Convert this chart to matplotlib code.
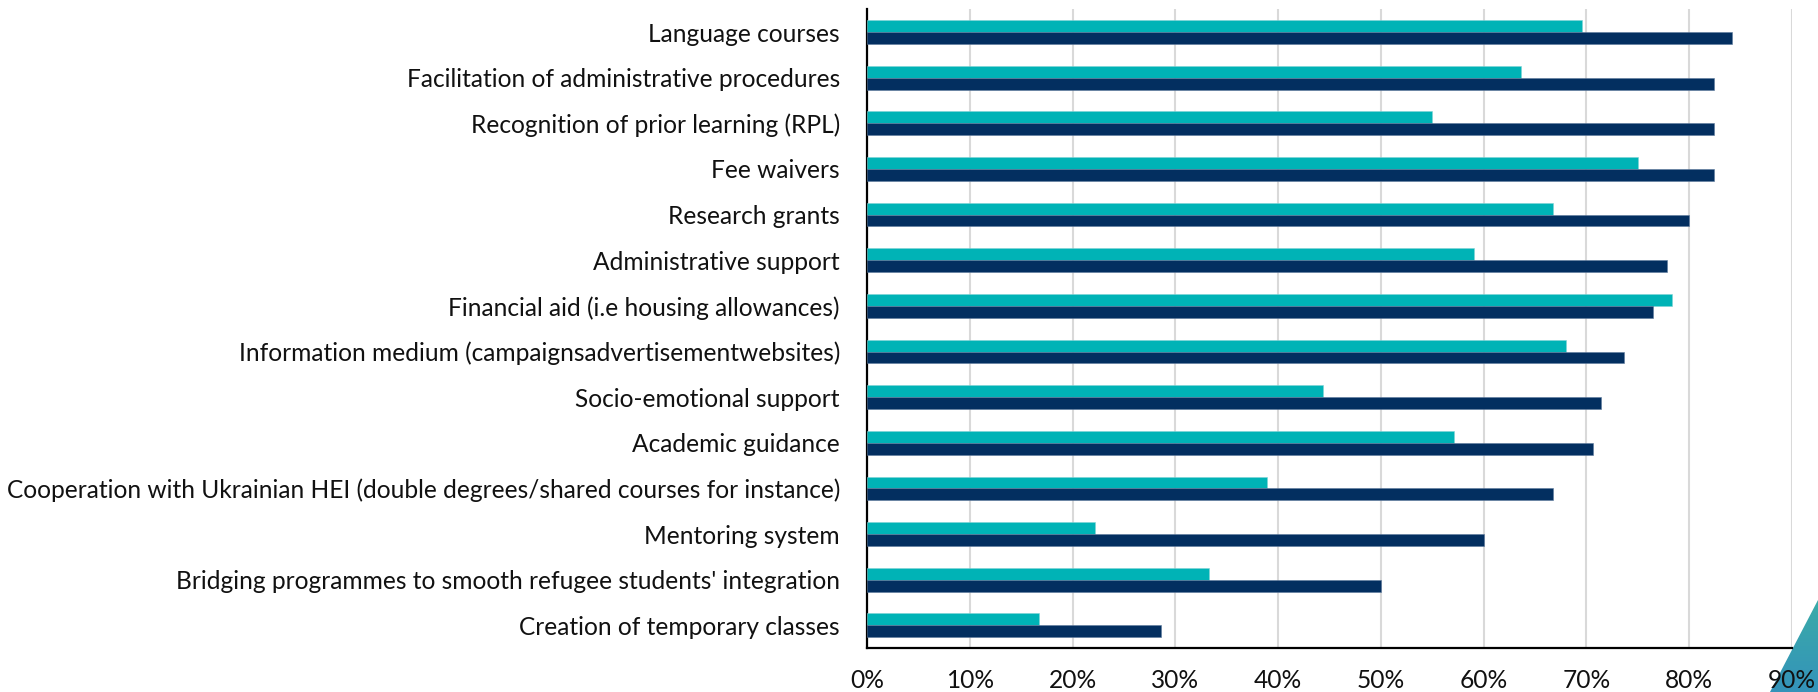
import numpy as np
import matplotlib
matplotlib.use("Agg")
import matplotlib.pyplot as plt
from matplotlib.patches import Polygon
from matplotlib.ticker import PercentFormatter

plt.rcParams["font.family"] = ["Lato", "DejaVu Sans"]

# Support measures, top to bottom
categories = [
    "Language courses",
    "Facilitation of administrative procedures",
    "Recognition of prior learning (RPL)",
    "Fee waivers",
    "Research grants",
    "Administrative support",
    "Financial aid (i.e housing allowances)",
    "Information medium (campaignsadvertisementwebsites)",
    "Socio-emotional support",
    "Academic guidance",
    "Cooperation with Ukrainian HEI (double degrees/shared courses for instance)",
    "Mentoring system",
    "Bridging programmes to smooth refugee students' integration",
    "Creation of temporary classes",
]

# Shares of respondents (fractions)
teal_vals = [0.696, 0.636, 0.550, 0.750, 0.667, 0.591, 0.783, 0.680,
             0.444, 0.571, 0.389, 0.222, 0.333, 0.167]
navy_vals = [0.842, 0.824, 0.824, 0.824, 0.800, 0.778, 0.765, 0.737,
             0.714, 0.706, 0.667, 0.600, 0.500, 0.286]

TEAL = "#00B3B6"
NAVY = "#032F60"

fig = plt.figure(figsize=(18.18, 6.92), dpi=100)
ax = fig.add_axes([0.4769, 0.0634, 0.9857 - 0.4769, 0.9866 - 0.0634])

y = np.arange(len(categories))
h = 0.26
ax.barh(y - h / 2, teal_vals, height=h, color=TEAL, edgecolor="#7fd4d6",
        linewidth=0.4, zorder=3)
ax.barh(y + h / 2, navy_vals, height=h, color=NAVY, edgecolor="#5d7a9c",
        linewidth=0.4, zorder=3)

ax.set_xlim(0, 0.9)
ax.set_ylim(len(categories) - 0.5, -0.5)
ax.xaxis.set_major_locator(plt.MultipleLocator(0.1))
ax.xaxis.set_major_formatter(PercentFormatter(1.0, decimals=0))
ax.set_yticks(y)
ax.set_yticklabels(categories)

ax.grid(axis="x", color="#D9D9D9", linewidth=1.5, zorder=0)
ax.set_axisbelow(True)
for s in ["top", "right"]:
    ax.spines[s].set_visible(False)
for s in ["left", "bottom"]:
    ax.spines[s].set_color("black")
    ax.spines[s].set_linewidth(1.6)

ax.tick_params(axis="both", length=0, labelsize=17.65, colors="#111111")
ax.tick_params(axis="y", pad=19.5)
ax.tick_params(axis="x", pad=15)

# corner decoration with a vertical colour fade
corner = [(1.0, 1 - 600 / 692), (1.0, 0.0), (1770 / 1818, 0.0)]
grad = np.linspace(0, 1, 256).reshape(-1, 1)
cmap = matplotlib.colors.LinearSegmentedColormap.from_list(
    "fade", ["#3493BA", "#3AABA8"])
bg = fig.add_axes([0, 0, 1, 1], zorder=-1)
bg.set_axis_off()
bg.set_xlim(0, 1)
bg.set_ylim(0, 1)
im = bg.imshow(grad, cmap=cmap, extent=[1760 / 1818, 1.0, 0.0, 1 - 600 / 692],
               origin="lower", aspect="auto")
im.set_clip_path(Polygon(corner, closed=True, transform=bg.transAxes))
ax.set_zorder(1)
ax.patch.set_alpha(0)

fig.savefig("out.png", dpi=100, facecolor="white")
